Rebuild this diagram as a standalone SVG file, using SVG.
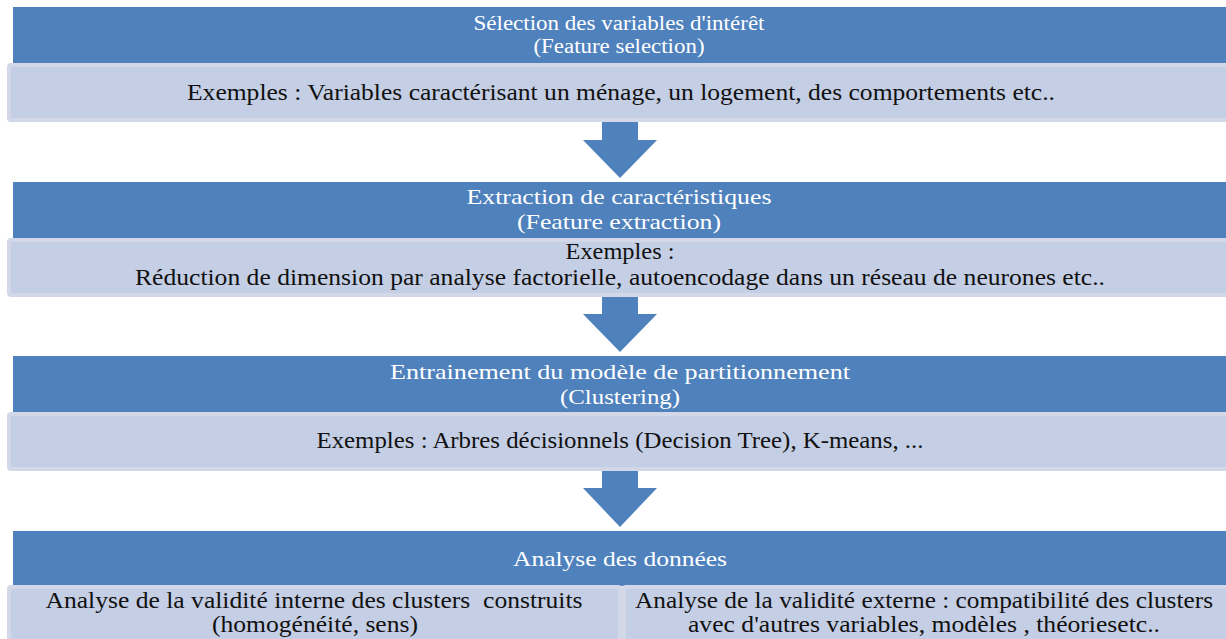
<svg xmlns="http://www.w3.org/2000/svg" width="1226" height="639" viewBox="0 0 1226 639">
<style>
.hdr{fill:#4F81BD;}
.lt{fill:#C4CEE4;stroke:#D2D8E8;stroke-width:4;}
.arr{fill:#4F81BD;}
text{font-family:"Liberation Serif","DejaVu Serif",serif;text-anchor:middle;white-space:pre;}
.w{fill:#FFFFFF;font-size:22px;}
.w1{fill:#FFFFFF;font-size:20px;}
.b{fill:#111111;font-size:23px;}
</style>
<rect width="1226" height="639" fill="#FFFFFF"/>
<g id="step1">
<rect class="hdr" x="13" y="7" width="1213" height="57"/>
<text class="w1" x="619" y="30" textLength="291" lengthAdjust="spacingAndGlyphs">Sélection des variables d'intérêt</text>
<text class="w1" x="619" y="53" textLength="171" lengthAdjust="spacingAndGlyphs">(Feature selection)</text>
<rect class="lt" x="9" y="65" width="1219" height="55" rx="2"/>
<text class="b" x="621" y="100" textLength="868" lengthAdjust="spacingAndGlyphs">Exemples : Variables caractérisant un ménage, un logement, des comportements etc..</text>
</g>
<g id="step2">
<rect class="hdr" x="13" y="182" width="1213" height="57"/>
<text class="w" x="619" y="204" textLength="305" lengthAdjust="spacingAndGlyphs">Extraction de caractéristiques</text>
<text class="w" x="619" y="229" textLength="204" lengthAdjust="spacingAndGlyphs">(Feature extraction)</text>
<rect class="lt" x="9" y="240" width="1219" height="55" rx="2"/>
<text class="b" x="620" y="259" textLength="109" lengthAdjust="spacingAndGlyphs">Exemples :</text>
<text class="b" x="620" y="285" textLength="970" lengthAdjust="spacingAndGlyphs">Réduction de dimension par analyse factorielle, autoencodage dans un réseau de neurones etc..</text>
</g>
<g id="step3">
<rect class="hdr" x="13" y="356" width="1213" height="57"/>
<text class="w" x="620" y="379" textLength="460" lengthAdjust="spacingAndGlyphs">Entrainement du modèle de partitionnement</text>
<text class="w" x="620" y="404" textLength="120" lengthAdjust="spacingAndGlyphs">(Clustering)</text>
<rect class="lt" x="9" y="414" width="1219" height="55" rx="2"/>
<text class="b" x="620" y="448" textLength="607" lengthAdjust="spacingAndGlyphs">Exemples : Arbres décisionnels (Decision Tree), K-means, ...</text>
</g>
<g id="step4">
<rect class="hdr" x="13" y="531" width="1213" height="55"/>
<text class="w" x="620" y="566" textLength="214" lengthAdjust="spacingAndGlyphs">Analyse des données</text>
</g>
<g id="internal">
<rect class="lt" x="9" y="587" width="611" height="56" rx="2"/>
<text class="b" x="314" y="608" textLength="537" lengthAdjust="spacingAndGlyphs">Analyse de la validité interne des clusters  construits</text>
<text class="b" x="315" y="632" textLength="206" lengthAdjust="spacingAndGlyphs">(homogénéité, sens)</text>
</g>
<g id="external">
<rect class="lt" x="624" y="587" width="604" height="56" rx="2"/>
<text class="b" x="924" y="608" textLength="578" lengthAdjust="spacingAndGlyphs">Analyse de la validité externe : compatibilité des clusters</text>
<text class="b" x="924" y="632" textLength="472" lengthAdjust="spacingAndGlyphs">avec d'autres variables, modèles , théoriesetc..</text>
</g>
<g id="connectors">
<polygon class="arr" points="602,122 638,122 638,140 657,140 620,178 583,140 602,140"/>
<polygon class="arr" points="602,297 638,297 638,314 657,314 620,352 583,314 602,314"/>
<polygon class="arr" points="602,471 638,471 638,488 657,488 620,527 583,488 602,488"/>
</g>
</svg>
